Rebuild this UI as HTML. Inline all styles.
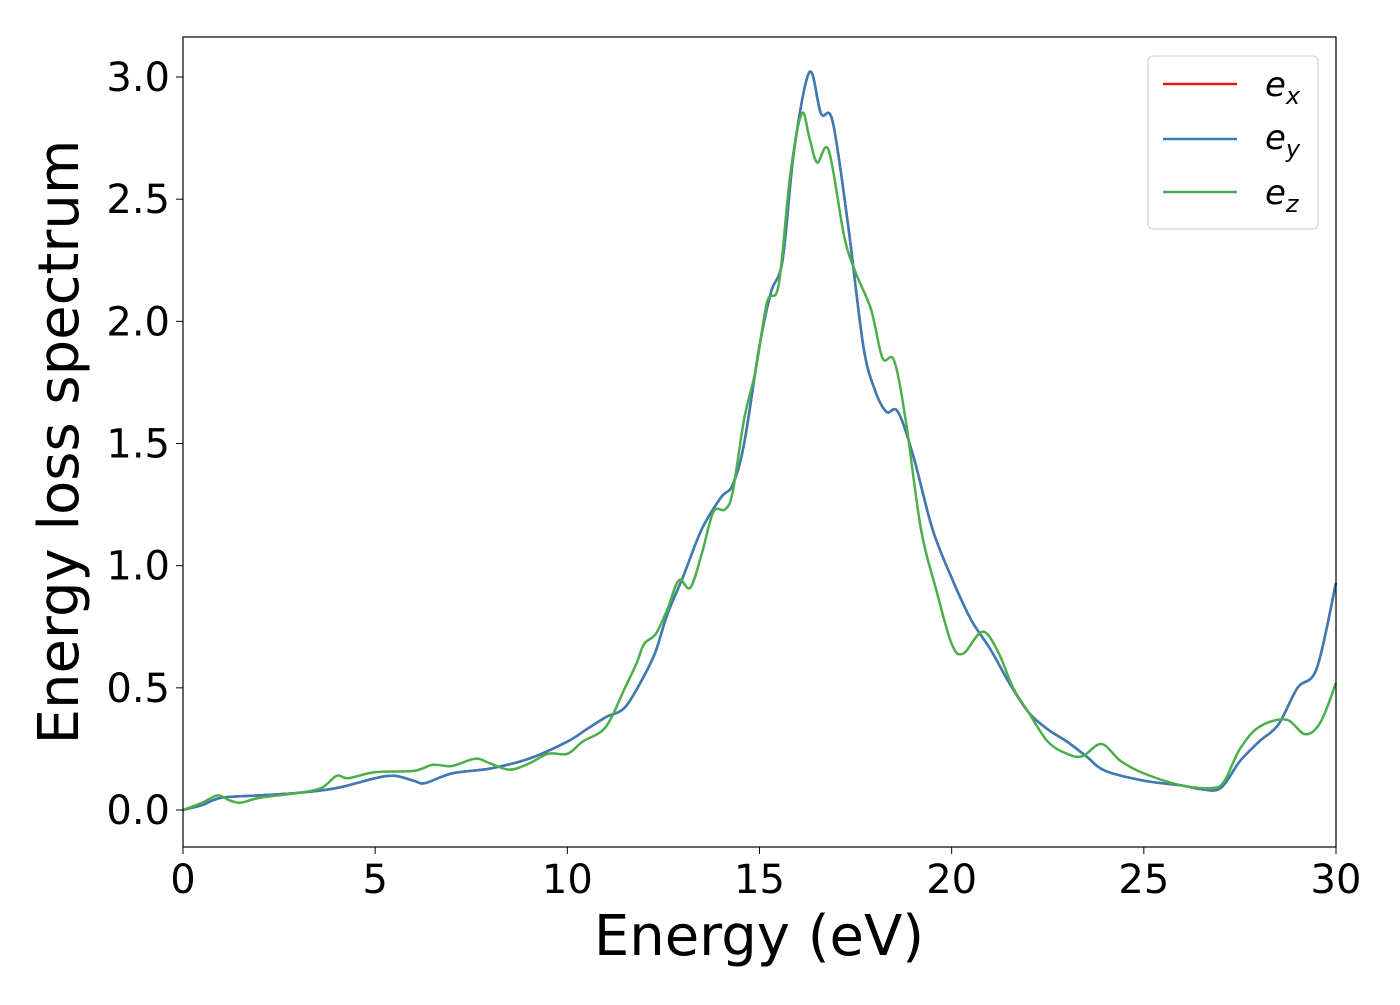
<!DOCTYPE html>
<html><head><meta charset="utf-8"><style>
body{margin:0;background:#fff;}
svg text{font-family:"DejaVu Sans","Liberation Sans",sans-serif;}
</style></head><body>
<svg id="chart" width="1400" height="1000" xmlns="http://www.w3.org/2000/svg">
<rect x="0" y="0" width="1400" height="1000" fill="#fff"/>
<g id="plot"></g>
<rect x="183" y="37" width="1153" height="810" fill="none" stroke="#000" stroke-width="1.2"/>
<g id="xticks"></g><g id="yticks"></g>
<text x="759" y="955" font-size="56" text-anchor="middle">Energy (eV)</text>
<text transform="translate(78,442) rotate(-90)" font-size="56" text-anchor="middle">Energy loss spectrum</text>
<g>
<rect x="1148" y="56" width="170" height="173" rx="5" fill="#fff" stroke="#ccc" stroke-width="1"/>
<line x1="1163" y1="84" x2="1237" y2="84" stroke="#e41a1c" stroke-width="2.5"/>
<text x="1265" y="96" font-size="34" font-style="italic">e<tspan font-size="24" dy="8">x</tspan></text>
<line x1="1163" y1="139" x2="1237" y2="139" stroke="#377eb8" stroke-width="2.5"/>
<text x="1265" y="149" font-size="34" font-style="italic">e<tspan font-size="24" dy="8">y</tspan></text>
<line x1="1163" y1="192" x2="1237" y2="192" stroke="#4daf4a" stroke-width="2.5"/>
<text x="1265" y="204" font-size="34" font-style="italic">e<tspan font-size="24" dy="8">z</tspan></text>
</g>
</svg>
<script>
const xyEnergy=[0,0.5,1,2,3,4,5,5.5,6,6.3,7,8,9,10,10.5,11,11.5,12,12.3,12.6,13,13.5,14,14.3,14.6,15,15.3,15.6,15.9,16.3,16.6,16.9,17.3,17.7,18,18.3,18.6,19,19.5,20,20.5,21,21.5,22,22.5,23,23.5,24,25,26,26.5,27,27.5,28,28.5,29,29.5,30];
const xyLoss=[0,0.02,0.05,0.06,0.07,0.09,0.13,0.14,0.12,0.11,0.15,0.17,0.21,0.28,0.33,0.38,0.42,0.55,0.65,0.8,0.95,1.15,1.28,1.33,1.5,1.9,2.12,2.25,2.7,3.02,2.85,2.82,2.4,1.9,1.72,1.63,1.63,1.45,1.15,0.95,0.78,0.66,0.52,0.4,0.33,0.28,0.22,0.16,0.12,0.1,0.085,0.09,0.2,0.28,0.35,0.5,0.58,0.93];
const zEnergy=[0,0.5,0.9,1.2,1.5,2,3,3.6,4,4.3,5,6,6.5,7,7.6,8,8.5,9,9.5,10,10.4,11,11.5,11.8,12,12.3,12.6,12.9,13.2,13.5,13.8,14.1,14.3,14.6,14.9,15.2,15.5,15.8,16.1,16.3,16.5,16.8,17.2,17.5,17.9,18.2,18.5,18.8,19.2,19.6,20,20.3,20.8,21.2,21.6,22,22.5,23,23.4,23.9,24.4,25,26,26.8,27.1,27.5,28,28.7,29.2,29.6,30];
const zLoss=[0,0.03,0.06,0.04,0.03,0.05,0.07,0.09,0.14,0.13,0.155,0.16,0.185,0.18,0.21,0.19,0.165,0.19,0.23,0.23,0.28,0.34,0.5,0.6,0.68,0.72,0.82,0.94,0.91,1.05,1.22,1.23,1.3,1.6,1.8,2.08,2.15,2.6,2.85,2.75,2.65,2.7,2.35,2.2,2.05,1.85,1.84,1.6,1.15,0.9,0.68,0.64,0.73,0.65,0.5,0.4,0.28,0.23,0.22,0.27,0.2,0.15,0.1,0.09,0.12,0.25,0.34,0.37,0.31,0.36,0.52];
const xTicks=[0,5,10,15,20,25,30];
const yTicks=[0,0.5,1,1.5,2,2.5,3];
const yTickLabels=["0.0","0.5","1.0","1.5","2.0","2.5","3.0"];
const X=v=>183+v*(1153/30), Y=v=>810-v*(733/3);
const NS="http://www.w3.org/2000/svg";
function smooth(xs,ys){const p=xs.map((x,i)=>[X(x),Y(ys[i])]);let d=`M${p[0][0]},${p[0][1]}`;
for(let i=0;i<p.length-1;i++){const p0=p[Math.max(i-1,0)],p1=p[i],p2=p[i+1],p3=p[Math.min(i+2,p.length-1)];
d+=` C${p1[0]+(p2[0]-p0[0])/6},${p1[1]+(p2[1]-p0[1])/6} ${p2[0]-(p3[0]-p1[0])/6},${p2[1]-(p3[1]-p1[1])/6} ${p2[0]},${p2[1]}`;}return d;}
const plot=document.getElementById('plot');
function line(xs,ys,c,name){const e=document.createElementNS(NS,'path');e.setAttribute('d',smooth(xs,ys));e.setAttribute('fill','none');e.setAttribute('stroke',c);e.setAttribute('stroke-width','2.5');


plot.appendChild(e);}
line(xyEnergy,xyLoss,'#e41a1c','series-ex');
line(xyEnergy,xyLoss,'#377eb8','series-ey');
line(zEnergy,zLoss,'#4daf4a','series-ez');
const xt=document.getElementById('xticks');
xTicks.forEach(v=>{const l=document.createElementNS(NS,'line');l.setAttribute('x1',X(v));l.setAttribute('x2',X(v));l.setAttribute('y1',847);l.setAttribute('y2',854);l.setAttribute('stroke','#000');


xt.appendChild(l);
const t=document.createElementNS(NS,'text');t.setAttribute('x',X(v));t.setAttribute('y',893);t.setAttribute('font-size','40');t.setAttribute('text-anchor','middle');t.textContent=v;


xt.appendChild(t);});
const yt=document.getElementById('yticks');
yTicks.forEach((v,i)=>{const l=document.createElementNS(NS,'line');l.setAttribute('x1',176);l.setAttribute('x2',183);l.setAttribute('y1',Y(v));l.setAttribute('y2',Y(v));l.setAttribute('stroke','#000');


yt.appendChild(l);
const t=document.createElementNS(NS,'text');t.setAttribute('x',170);t.setAttribute('y',Y(v)+14);t.setAttribute('font-size','40');t.setAttribute('text-anchor','end');t.textContent=yTickLabels[i];


yt.appendChild(t);});
</script>
</body></html>
